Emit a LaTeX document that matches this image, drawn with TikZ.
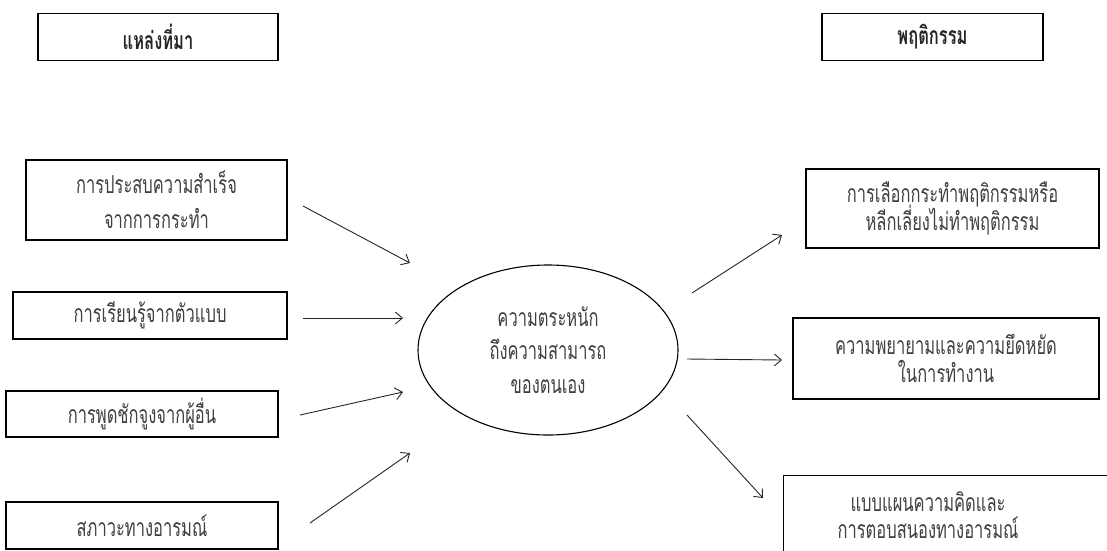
\documentclass[tikz,border=0pt]{standalone}
\usepackage{graphicx}
\usepackage{fontspec}
\newfontfamily\thaifont[Script=Thai]{Loma}
\usetikzlibrary{arrows.meta,shapes.geometric}
\definecolor{txt}{HTML}{404040}
\newcommand\thline[1]{\scalebox{1}[1.5]{#1}}
\lineskiplimit=-100pt
\tikzset{
  box/.style={draw=black, line width=1.2pt, inner sep=0pt, font=\thaifont\fontsize{16.5}{28}\selectfont, text=txt, align=center},
  head/.style={box, font=\thaifont\bfseries\fontsize{16.5}{27}\selectfont, text=black!85},
  arr/.style={draw=black!85, line width=0.9pt, -{Straight Barb[length=7pt,width=12pt]}},
}
\begin{document}
\begin{tikzpicture}[x=1pt,y=-1pt]
\useasboundingbox (0,0) rectangle (1107,550);
\fill[white] (0,0) rectangle (1107,550);
% headers
\node[head, minimum width=240pt, minimum height=47pt] (hl) at (158,37) {\thline{แหล่งที่มา}};
\node[head, minimum width=221pt, minimum height=47pt] (hr) at (932.5,37) {\thline{พฤติกรรม}};
% left boxes
\node[box, minimum width=261pt, minimum height=80pt, font=\thaifont\fontsize{16.5}{35}\selectfont] (l1) at (156.5,200) {\thline{การประสบความสำเร็จ}\\\thline{จากการกระทำ}};
\node[box, minimum width=274pt, minimum height=47pt] (l2) at (150,315.5) {\thline{การเรียนรู้จากตัวแบบ}};
\node[box, minimum width=272pt, minimum height=46pt] (l3) at (142,414) {\thline{การพูดชักจูงจากผู้อื่น}};
\node[box, minimum width=272pt, minimum height=47pt] (l4) at (142,525.5) {\thline{สภาวะทางอารมณ์}};
% ellipse
\node[draw=black, line width=1.1pt, ellipse, minimum width=260pt, minimum height=170pt, inner sep=0pt,
      font=\thaifont\fontsize{16.5}{33.5}\selectfont, text=txt, align=center] (c) at (548,350)
      {\thline{ความตระหนัก}\\\thline{ถึงความสามารถ}\\\thline{ของตนเอง}};
% right boxes
\node[box, minimum width=293pt, minimum height=79pt] (r1) at (952.5,208.5) {\thline{การเลือกกระทำพฤติกรรมหรือ}\\\thline{หลีกเลี่ยงไม่ทำพฤติกรรม}};
\node[box, minimum width=306pt, minimum height=81pt] (r2) at (946,358.5) {\thline{ความพยายามและความยึดหยัด}\\\thline{ในการทำงาน}};
\node[box, minimum width=340pt, minimum height=110pt, anchor=north west] (r3) at (783,475) {};
\node[font=\thaifont\fontsize{16.5}{27}\selectfont, text=txt, align=center] (r3t) at (928,515) {\thline{แบบแผนความคิดและ}\\\thline{การตอบสนองทางอารมณ์}};
% arrow end points
\coordinate (a1s) at (303,206); \coordinate (a1e) at (410,263);
\coordinate (a2s) at (303,318); \coordinate (a2e) at (403,318);
\coordinate (a3s) at (300,415); \coordinate (a3e) at (403,392);
\coordinate (a4s) at (310,523); \coordinate (a4e) at (410,453);
\coordinate (a5s) at (692,293); \coordinate (a5e) at (782,235);
\coordinate (a6s) at (687,359); \coordinate (a6e) at (782,360);
\coordinate (a7s) at (687,415); \coordinate (a7e) at (763,498);
\draw[arr] (a1s) -- (a1e);
\draw[arr] (a2s) -- (a2e);
\draw[arr] (a3s) -- (a3e);
\draw[arr] (a4s) -- (a4e);
\draw[arr] (a5s) -- (a5e);
\draw[arr] (a6s) -- (a6e);
\draw[arr] (a7s) -- (a7e);
\end{tikzpicture}
\end{document}
